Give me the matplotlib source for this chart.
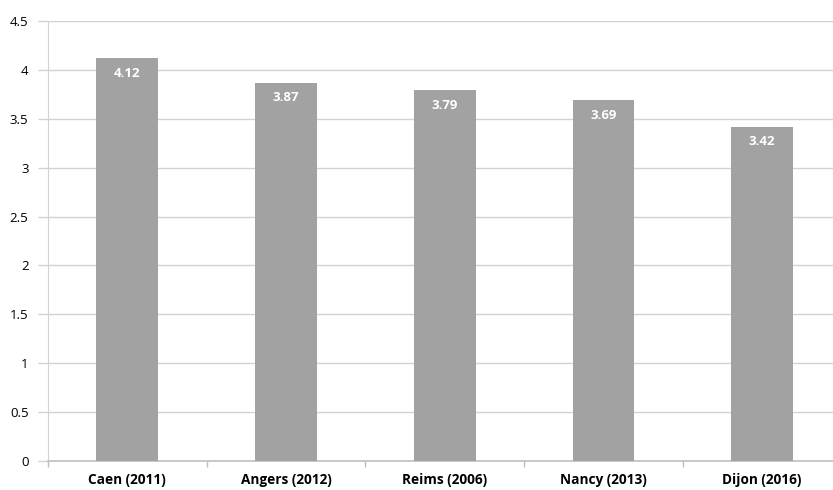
import matplotlib
matplotlib.use("Agg")
import matplotlib.pyplot as plt
import numpy as np

cities = ["Caen (2011)", "Angers (2012)", "Reims (2006)", "Nancy (2013)", "Dijon (2016)"]
values = [4.12, 3.87, 3.79, 3.69, 3.42]
y_ticks = [0, 0.5, 1, 1.5, 2, 2.5, 3, 3.5, 4, 4.5]
y_tick_labels = ["0", "0.5", "1", "1.5", "2", "2.5", "3", "3.5", "4", "4.5"]

plt.rcParams["font.family"] = ["Open Sans", "DejaVu Sans"]

fig = plt.figure(figsize=(8.33, 4.9), dpi=100)
ax = fig.add_axes([48 / 833, (490 - 461) / 490, 793.5 / 833, 440 / 490])

bar_color = "#a2a2a2"
grid_color = "#d2d2d2"

x = np.arange(len(cities))
ax.bar(x, values, width=0.39, color=bar_color, zorder=3)

# value labels sit inside the top of each bar
for xi, v in zip(x, values):
    ax.text(xi, v - 0.09, f"{v:.2f}", ha="center", va="top", color="white",
            fontsize=9.5, fontweight="bold", zorder=4)

ax.set_xlim(-0.5, len(cities) - 0.5)
ax.set_ylim(0, 4.5)
ax.set_yticks(y_ticks)
ax.set_yticklabels(y_tick_labels)
ax.yaxis.grid(True, color=grid_color, linewidth=1.0, zorder=0)

ax.set_xticks(x)
ax.set_xticklabels(cities, fontweight="bold")
ax.set_xticks(np.arange(-0.5, len(cities) + 0.5, 1), minor=True)
ax.tick_params(axis="x", which="major", length=0, pad=8.5, labelsize=9.8, colors="#000000")
ax.tick_params(axis="x", which="minor", length=4, color="#bfbfbf", width=1, direction="out")
ax.tick_params(axis="y", length=7, color=grid_color, width=1, labelsize=9.5, pad=7)

for side in ["top", "right"]:
    ax.spines[side].set_visible(False)
ax.spines["left"].set_color(grid_color)
ax.spines["bottom"].set_color("#bfbfbf")
ax.spines["bottom"].set_linewidth(1.2)

fig.savefig("out.png", dpi=100, facecolor="white")
